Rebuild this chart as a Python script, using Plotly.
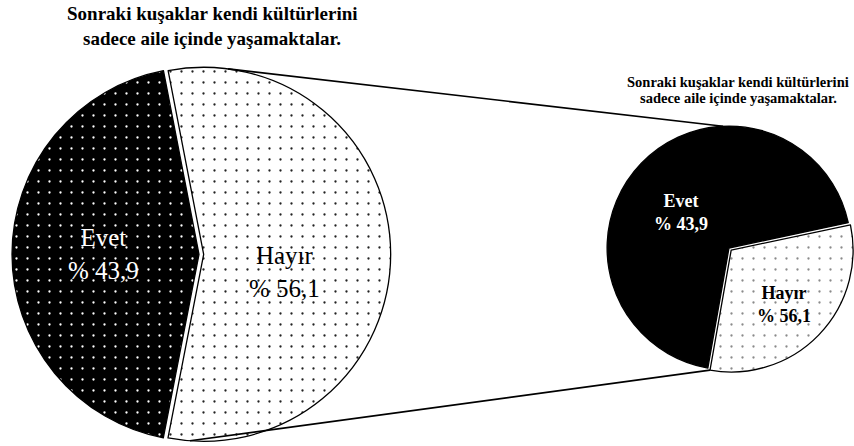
import math
import plotly.graph_objects as go

# ---- data ----
labels = ["Evet", "Hayır"]
percent = [43.9, 56.1]                 # shares printed on the chart
inset_shares = [68.9, 31.1]            # slice sizes of the small pie as drawn (estimated)
title_lines = ["Sonraki kuşaklar kendi kültürlerini", "sadece aile içinde yaşamaktalar."]

W, H = 854, 446
SERIF = "Liberation Serif, Times New Roman, serif"


def fx(x):
    return x / W


def fy(y):
    return 1 - y / H


def fmt(v):
    return f"{v:.1f}".replace(".", ",")


# geometry (pixels)
BIG = dict(cx=199.0, cy=254.3, r=187.0, pull=0.025, rot=191)
SMALL = dict(cx=729.0, cy=248.0, r=121.9, pull=0.025, rot=190)


def domain(g):
    half = g["r"] * (1 + g["pull"])
    return dict(x=[fx(g["cx"] - half), min(1.0, fx(g["cx"] + half))],
                y=[max(0.0, fy(g["cy"] + half)), fy(g["cy"] - half)])


def pulled_point(g, values, theta):
    # point on the rim of the pulled second slice, theta clockwise from 12 o'clock
    tot = sum(values)
    a0 = values[0] / tot * 360
    mid = g["rot"] + a0 + (360 - a0) / 2
    ox = g["pull"] * g["r"] * math.sin(math.radians(mid))
    oy = -g["pull"] * g["r"] * math.cos(math.radians(mid))
    x = g["cx"] + ox + g["r"] * math.sin(math.radians(theta))
    y = g["cy"] + oy - g["r"] * math.cos(math.radians(theta))
    return fx(x), fy(y)


fig = go.Figure()

fig.add_trace(go.Pie(
    labels=labels, values=percent, sort=False, direction="counterclockwise",
    rotation=BIG["rot"], pull=[0, BIG["pull"]], domain=domain(BIG),
    textinfo="none", hoverinfo="skip", showlegend=False,
    marker=dict(colors=["black", "white"],
                line=dict(color="black", width=1.3),
                pattern=dict(shape=[".", "."], fgcolor=["white", "#222222"],
                             bgcolor=["black", "white"], size=11, solidity=0.035)),
))

fig.add_trace(go.Pie(
    labels=labels, values=inset_shares, sort=False, direction="counterclockwise",
    rotation=SMALL["rot"], pull=[0, SMALL["pull"]], domain=domain(SMALL),
    textinfo="none", hoverinfo="skip", showlegend=False,
    marker=dict(colors=["black", "white"],
                line=dict(color="black", width=1.3),
                pattern=dict(shape=["", "."], fgcolor=["black", "#8a8a8a"],
                             bgcolor=["black", "white"], size=11, solidity=0.035)),
))

# connector lines between the two pies
x0, y0 = pulled_point(BIG, percent, 7.5)
x1, y1 = fx(SMALL["cx"] + SMALL["r"] * math.sin(math.radians(-2.8))), \
    fy(SMALL["cy"] - SMALL["r"] * math.cos(math.radians(-2.8)))
x2, y2 = pulled_point(BIG, percent, 184.2)
x3, y3 = pulled_point(SMALL, inset_shares, 190)
shapes = [
    dict(type="line", xref="paper", yref="paper", x0=x0, y0=y0, x1=x1, y1=y1,
         line=dict(color="black", width=1.6)),
    dict(type="line", xref="paper", yref="paper", x0=x2, y0=y2, x1=x3, y1=y3,
         line=dict(color="black", width=1.6)),
]

ann = []
# titles
for txt, yc in zip(title_lines, [14.0, 38.4]):
    ann.append(dict(text=f"<b>{txt}</b>", x=fx(212), y=fy(yc), xref="paper", yref="paper",
                    xanchor="center", yanchor="middle", showarrow=False,
                    font=dict(family=SERIF, size=19, color="black")))
for txt, yc in zip(title_lines, [82.1, 98.1]):
    ann.append(dict(text=f"<b>{txt}</b>", x=fx(738), y=fy(yc), xref="paper", yref="paper",
                    xanchor="center", yanchor="middle", showarrow=False,
                    font=dict(family=SERIF, size=14.5, color="black")))

# big pie labels
big_pos = [(103, 254), (284, 272)]
big_col = ["white", "black"]
for lab, p, (xp, yp), c in zip(labels, percent, big_pos, big_col):
    ann.append(dict(text=f"{lab}<br>% {fmt(p)}", x=fx(xp), y=fy(yp), xref="paper", yref="paper",
                    xanchor="center", yanchor="middle", showarrow=False,
                    font=dict(family=SERIF, size=25, color=c)))

# small pie labels
small_pos = [(681, 213), (784, 304)]
for lab, p, (xp, yp), c in zip(labels, percent, small_pos, big_col):
    ann.append(dict(text=f"<b>{lab}<br>% {fmt(p)}</b>", x=fx(xp), y=fy(yp), xref="paper", yref="paper",
                    xanchor="center", yanchor="middle", showarrow=False,
                    font=dict(family=SERIF, size=18, color=c)))

fig.update_layout(width=W, height=H, margin=dict(l=0, r=0, t=0, b=0),
                  paper_bgcolor="white", plot_bgcolor="white",
                  annotations=ann, shapes=shapes)

fig.write_html("out.html", config={"displayModeBar": False},
               post_script="document.body.style.margin='0px';document.body.style.overflow='hidden';")
